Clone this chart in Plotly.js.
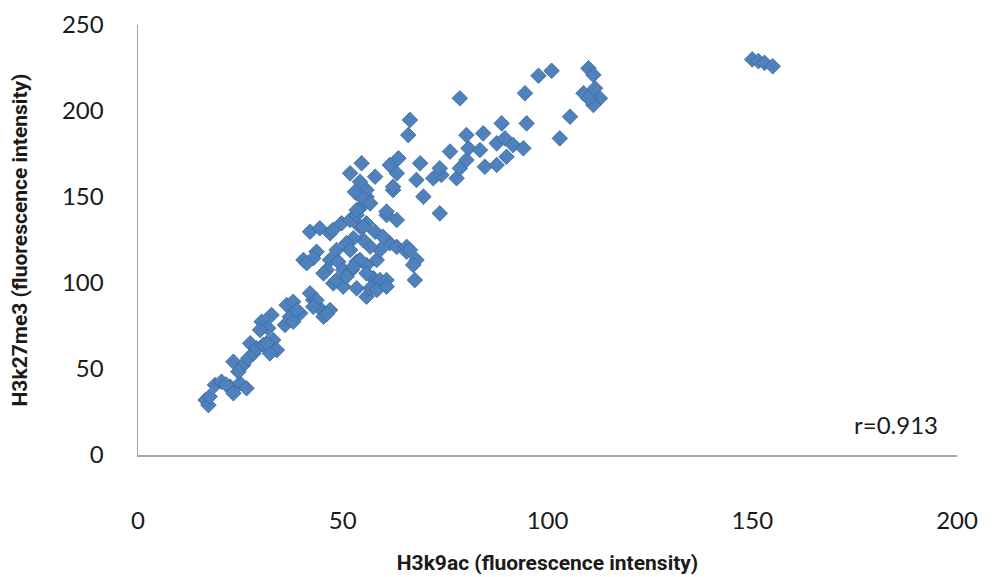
<!DOCTYPE html>
<html>
<head>
<meta charset="utf-8">
<script src="https://cdn.plot.ly/plotly-3.0.1.min.js"></script>
<style>
html,body{margin:0;padding:0;background:#fff;}
#chart{width:992px;height:577px;}
</style>
</head>
<body>
<div id="chart"></div>
<script>
// H3k9ac (x) and H3k27me3 (y) fluorescence intensities
const h3k9ac = [
  16.5,17.2,17.5,18.8,20.4,22.5,23.3,24.9,26.5,21.5,
  23.3,25.7,26.9,24.5,28.2,
  27.4,29.0,30.6,33.0,33.9,32.2,31.4,
  30.2,32.6,31.8,29.8,
  36.3,37.9,37.1,35.9,39.6,37.9,38.8,
  42.8,44.4,42.0,45.3,46.9,43.6,42.8,46.1,
  40.4,43.6,42.8,41.2,
  48.5,46.9,48.9,46.1,50.1,53.4,52.2,55.8,58.3,54.2,
  45.3,47.7,50.1,53.4,55.8,57.5,59.1,60.7,56.7,48.5,50.9,52.6,55.8,58.3,60.7,
  42.0,44.4,46.9,49.7,51.8,53.4,54.2,55.8,47.6,55.0,
  53.4,55.8,55.0,62.3,
  57.9,61.5,59.1,56.7,55.0,52.6,50.9,51.8,59.8,63.2,65.6,
  65.6,68.0,67.2,67.6,66.4,
  60.7,63.2,
  51.8,54.6,54.2,57.9,55.8,53.0,55.0,53.4,56.7,61.5,62.3,60.7,63.2,63.6,
  66.4,66.0,68.9,68.0,69.7,73.7,72.1,74.1,73.7,77.8,78.6,80.2,84.7,87.6,90.0,
  80.7,83.5,87.6,89.6,91.6,94.1,76.2,80.2,84.3,88.8,94.9,78.6,
  94.5,97.8,101.0,110.0,111.2,108.8,111.6,112.8,111.2,110.0,105.5,103.0,
  150.0,151.5,153.0,155.0
];
const h3k27me3 = [
  32.0,29.0,34.0,40.7,42.6,39.7,35.9,41.7,38.8,41.0,
  54.2,52.3,56.2,48.4,59.1,
  64.9,62.0,64.0,66.8,61.0,59.1,65.0,
  77.5,81.4,73.7,72.7,
  87.2,89.1,80.4,75.6,82.4,77.5,84.0,
  90.1,85.3,94.0,80.4,84.3,90.0,86.2,82.0,
  113.4,118.2,114.4,111.5,
  119.2,113.4,112.4,107.6,107.6,112.4,107.6,110.5,113.4,113.4,
  105.6,99.8,97.9,96.9,92.0,102.7,101.7,101.7,96.9,101.7,103.7,109.5,105.6,95.9,97.9,
  129.8,131.8,128.9,134.7,136.6,139.5,132.7,134.7,130.8,132.7,
  152.2,150.2,145.3,154.0,
  129.8,123.1,119.2,121.1,125.0,126.0,123.1,119.2,126.9,121.0,121.0,
  118.2,113.4,110.5,101.7,119.2,
  139.5,136.6,
  163.8,169.6,158.9,161.8,154.0,153.0,149.2,142.4,146.3,168.6,156.0,141.5,163.8,172.5,
  194.8,186.0,169.6,159.9,150.2,140.5,160.9,162.8,166.7,160.9,166.7,171.5,167.6,168.6,173.4,
  178.3,177.3,181.2,184.1,180.2,178.3,176.4,186.0,187.0,192.8,192.8,207.4,
  210.3,220.5,223.4,224.8,221.0,210.3,213.2,207.4,203.5,207.4,196.7,184.1,
  230.0,229.0,228.0,226.0
];
const xTicks = [0, 50, 100, 150, 200];
const yTicks = [0, 50, 100, 150, 200, 250];
const xTitle = 'H3k9ac (fluorescence intensity)';
const yTitle = 'H3k27me3 (fluorescence intensity)';
const rLabel = 'r=0.913';

const trace = {
  type: 'scatter',
  mode: 'markers',
  x: h3k9ac,
  y: h3k27me3,
  marker: {
    symbol: 'diamond',
    size: 12,
    color: '#4F81BD',
    line: {color: '#3A679E', width: 0.8}
  },
  hoverinfo: 'x+y'
};

const tickFont = {family: 'Lato, "DejaVu Sans", sans-serif', size: 24, color: '#1a1a1a'};
const titleFont = {family: 'Roboto, "DejaVu Sans", sans-serif', size: 21, color: '#1a1a1a', weight: 'bold'};

const layout = {
  width: 992,
  height: 577,
  margin: {l: 138, r: 35, t: 25, b: 122},
  paper_bgcolor: '#ffffff',
  plot_bgcolor: '#ffffff',
  showlegend: false,
  xaxis: {
    range: [0, 200],
    tickvals: xTicks,
    ticktext: xTicks.map(String),
    showgrid: false,
    zeroline: false,
    showline: true,
    linecolor: '#A6A6A6',
    linewidth: 1.5,
    ticks: '',
    ticklabelstandoff: 44,
    tickfont: tickFont,
    title: {text: xTitle, font: titleFont, standoff: 22},
    automargin: false,
    fixedrange: true
  },
  yaxis: {
    range: [0, 250],
    tickvals: yTicks,
    ticktext: yTicks.map(String),
    showgrid: false,
    zeroline: false,
    showline: true,
    linecolor: '#A6A6A6',
    linewidth: 1.5,
    ticks: '',
    ticklabelstandoff: 28,
    tickfont: tickFont,
    title: {text: yTitle, font: titleFont, standoff: 28},
    automargin: false,
    fixedrange: true
  },
  annotations: [{
    xref: 'x', yref: 'y',
    x: 185, y: 17.5,
    text: rLabel,
    showarrow: false,
    font: {family: 'Lato, "DejaVu Sans", sans-serif', size: 24, color: '#1a1a1a'}
  }]
};

Plotly.newPlot('chart', [trace], layout, {displayModeBar: false, staticPlot: true});
</script>
</body>
</html>
